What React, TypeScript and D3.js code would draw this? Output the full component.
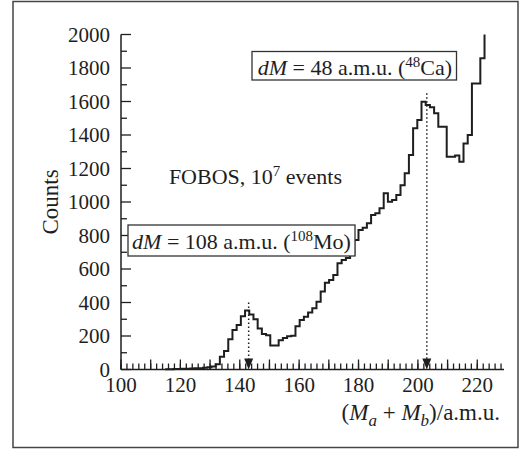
import React from "react";
import * as d3 from "d3";

// ---- data ----
const binStart = 114.9; // amu, left edge of first bin
const binWidth = 1.415; // amu
const counts = [
  2, 2, 3, 3, 4, 5, 6, 7, 8, 10, 13, 18, 31, 76, 110,
  180, 236, 265, 318, 352, 328, 300, 245, 212, 204, 144, 144, 174, 188, 198,
  202, 258, 295, 315, 341, 365, 405, 465, 518, 534, 564, 634, 654, 665, 684,
  773, 833, 847, 873, 922, 933, 962, 1052, 1002, 1012, 1042, 1100, 1171, 1280, 1440,
  1490, 1599, 1579, 1565, 1530, 1450, 1450, 1270, 1270, 1278, 1240, 1350, 1400, 1708, 1708,
  1858,
];
const lastValue = 2000; // rises off the top of the plot
const yTicks = [0, 200, 400, 600, 800, 1000, 1200, 1400, 1600, 1800, 2000];
const xTickLabels = [100, 120, 140, 160, 180, 200, 220];
const markers = [
  { mass: 143, top: 400 },
  { mass: 203, top: 1650 },
];

const W = 524;
const H = 452;
const FONT = "'Liberation Serif', 'Times New Roman', serif";
const INK = "#1e1e1e";

export default function App() {
  const x = d3.scaleLinear().domain([100, 229]).range([121, 504]);
  const y = d3.scaleLinear().domain([0, 2000]).range([369.5, 34.5]);

  const pts: [number, number][] = counts.map((c, i) => [binStart + i * binWidth, c]);
  pts.push([binStart + counts.length * binWidth, lastValue]);
  const line = d3
    .line<[number, number]>()
    .x((d) => x(d[0]))
    .y((d) => y(d[1]))
    .curve(d3.curveStepAfter);

  const xMinor = d3.range(100, 229.01, 2);
  const xMajor = d3.range(100, 229.01, 10);
  const yMinor = d3.range(0, 2000.1, 100);

  return (
    <svg
      width={W}
      height={H}
      style={{ position: "absolute", left: 0, top: 0, background: "#fff" }}
      fontFamily={FONT}
    >
      <rect x={13} y={1.5} width={505} height={446} fill="none" stroke="#444" strokeWidth={1.5} />

      {/* y axis */}
      <line x1={x(100)} x2={x(100)} y1={y(0)} y2={y(2000)} stroke={INK} strokeWidth={1.5} />
      {yMinor.map((v) => (
        <line
          key={"ym" + v}
          x1={x(100)}
          x2={x(100) + (v % 200 === 0 ? 10 : 6)}
          y1={y(v)}
          y2={y(v)}
          stroke={INK}
          strokeWidth={1.3}
        />
      ))}
      {yTicks.map((v) => (
        <text key={"yl" + v} x={110} y={y(v)} dy="0.35em" textAnchor="end" fontSize={21} fill={INK}>
          {v}
        </text>
      ))}

      {/* x axis */}
      <line x1={x(100)} x2={x(229)} y1={y(0)} y2={y(0)} stroke={INK} strokeWidth={1.5} />
      {xMinor.map((v) => (
        <line key={"xm" + v} x1={x(v)} x2={x(v)} y1={y(0)} y2={y(0) - 6} stroke={INK} strokeWidth={1.3} />
      ))}
      {xMajor.map((v) => (
        <line key={"xM" + v} x1={x(v)} x2={x(v)} y1={y(0)} y2={y(0) - 10} stroke={INK} strokeWidth={1.3} />
      ))}
      {xTickLabels.map((v) => (
        <text key={"xl" + v} x={x(v)} y={392} textAnchor="middle" fontSize={21} fill={INK}>
          {v}
        </text>
      ))}

      {/* histogram */}
      <path d={line(pts) || ""} fill="none" stroke={INK} strokeWidth={2} />

      {/* markers */}
      {markers.map((m) => (
        <g key={"mk" + m.mass}>
          <line
            x1={x(m.mass)}
            x2={x(m.mass)}
            y1={y(m.top)}
            y2={y(0) - 10}
            stroke={INK}
            strokeWidth={1.5}
            strokeDasharray="1.5,2.5"
          />
          <path
            d={`M${x(m.mass) - 4.5},${y(0) - 11} L${x(m.mass) + 4.5},${y(0) - 11} L${x(m.mass)},${y(0)} Z`}
            fill={INK}
          />
        </g>
      ))}

      {/* annotations */}
      <rect x={252} y={51.5} width={204.5} height={28.5} fill="#fff" stroke="#333" strokeWidth={1.3} />
      <text x={452} y={75} textAnchor="end" fontSize={22} fill={INK}>
        <tspan fontStyle="italic">dM</tspan> = 48 a.m.u. (
        <tspan fontSize={15} dy={-8}>48</tspan>
        <tspan dy={8}>Ca)</tspan>
      </text>

      <rect x={128} y={225} width={227} height={31} fill="#fff" stroke="#333" strokeWidth={1.3} />
      <text x={241.5} y={249} textAnchor="middle" fontSize={22} fill={INK}>
        <tspan fontStyle="italic">dM</tspan> = 108 a.m.u. (
        <tspan fontSize={15} dy={-8}>108</tspan>
        <tspan dy={8}>Mo)</tspan>
      </text>

      <text x={342} y={184} textAnchor="end" fontSize={22} fill={INK}>
        FOBOS, 10
        <tspan fontSize={15} dy={-8}>7</tspan>
        <tspan dy={8}> events</tspan>
      </text>

      <text
        transform={`translate(58,${(y(0) + y(2000)) / 2}) rotate(-90)`}
        textAnchor="middle"
        fontSize={23}
        fill={INK}
      >
        Counts
      </text>

      <text x={500} y={420} textAnchor="end" fontSize={23} fill={INK}>
        (<tspan fontStyle="italic">M</tspan>
        <tspan fontSize={17} fontStyle="italic" dy={6}>a</tspan>
        <tspan dy={-6}> + </tspan>
        <tspan fontStyle="italic">M</tspan>
        <tspan fontSize={17} fontStyle="italic" dy={6}>b</tspan>
        <tspan dy={-6}>)/a.m.u.</tspan>
      </text>
    </svg>
  );
}
